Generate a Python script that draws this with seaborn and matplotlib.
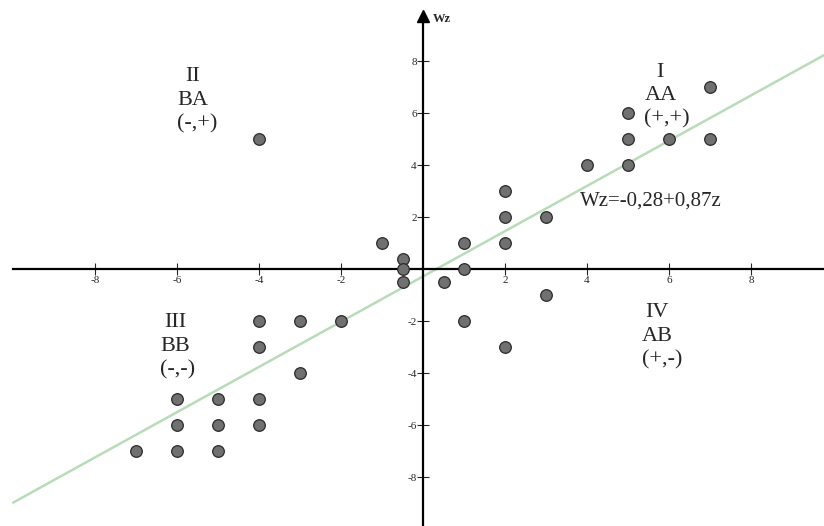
import numpy as np
import pandas as pd
import seaborn as sns
import matplotlib.pyplot as plt

# pontos do diagrama de Moran (z, Wz)
z = [-4, -1, -0.5, -0.5, -0.5, 0.5, 1, 1, 1, 2, 2, 2, 2, 3, 3,
     4, 5, 5, 5, 6, 7, 7,
     -4, -3, -2, -4, -3, -6, -5, -4, -6, -5, -4, -7, -6, -5]
wz = [5, 1, 0.4, 0, -0.5, -0.5, 1, 0, -2, 3, 2, 1, -3, 2, -1,
      4, 6, 5, 4, 5, 7, 5,
      -2, -2, -2, -3, -4, -5, -5, -5, -6, -6, -6, -7, -7, -7]

# reta de regressao Wz = a + b z
intercepto = -0.28
inclinacao = 0.87

ticks = [-8, -6, -4, -2, 2, 4, 6, 8]

# quadrantes: numeral, sigla, sinais, posicao (x esquerda, y da sigla)
quad_num = ['I', 'II', 'III', 'IV']
quad_sigla = ['AA', 'BA', 'BB', 'AB']
quad_sinal = ['(+,+)', '(-,+)', '(-,-)', '(+,-)']
quad_x = [5.4, -6.0, -6.41, 5.33]
quad_y = [6.67, 6.5, -2.96, -2.58]

df = pd.DataFrame({'z': z, 'Wz': wz})

sns.set_style('white')
plt.rcParams['font.family'] = ['Liberation Serif', 'DejaVu Serif']

fig = plt.figure(figsize=(8.24, 5.26), dpi=100)
ax = fig.add_axes([0, 0, 1, 1])

xmin, xmax = -10.32, 9.78
ymin, ymax = -9.88, 10.35

# reta
xl = np.array([-10.0, xmax])
linha = pd.DataFrame({'z': xl, 'Wz': intercepto + inclinacao * xl})
sns.lineplot(data=linha, x='z', y='Wz', ax=ax, color='#b8dbb8', lw=1.8, zorder=2)

sns.scatterplot(data=df, x='z', y='Wz', ax=ax, s=70, color='#707070',
                edgecolor='#2a2a2a', linewidth=0.9, zorder=3)

ax.set_xlim(xmin, xmax)
ax.set_ylim(ymin, ymax)

# eixos cruzando na origem
for s in ['top', 'right']:
    ax.spines[s].set_visible(False)
ax.spines['left'].set_position(('data', 0))
ax.spines['bottom'].set_position(('data', 0))
ax.spines['left'].set_bounds(ymin, 9.7)
ax.spines['bottom'].set_bounds(-10.0, xmax)
for s in ['left', 'bottom']:
    ax.spines[s].set_linewidth(1.6)
    ax.spines[s].set_color('black')
ax.plot([0], [9.72], marker='^', ms=8, color='black', clip_on=False, zorder=4)

ax.set_xticks(ticks)
ax.set_yticks(ticks)
ax.set_xticklabels([str(t) for t in ticks])
ax.set_yticklabels([str(t) for t in ticks])
ax.tick_params(axis='x', direction='inout', length=8, width=0.8, labelsize=8, pad=1,
               bottom=True)
ax.tick_params(axis='y', direction='inout', length=9, width=0.8, labelsize=8, pad=0,
               left=True)
ax.set_xlabel('')
ax.set_ylabel('')

ax.text(0.25, 9.62, 'Wz', fontsize=9, fontweight='bold', ha='left', va='center')

dy = 0.9
for num, sig, sin, x, y in zip(quad_num, quad_sigla, quad_sinal, quad_x, quad_y):
    ax.text(x, y, sig, fontsize=16, ha='left', va='center')
    w = 0.185 * len(sig)
    ax.text(x + w, y + dy, num, fontsize=16, ha='center', va='center')
    ax.text(x, y - dy, sin, fontsize=16, ha='left', va='center')

ax.text(5.56, 2.6, 'Wz=-0,28+0,87z', fontsize=15, ha='center', va='center')

fig.savefig('out.png', dpi=100)
